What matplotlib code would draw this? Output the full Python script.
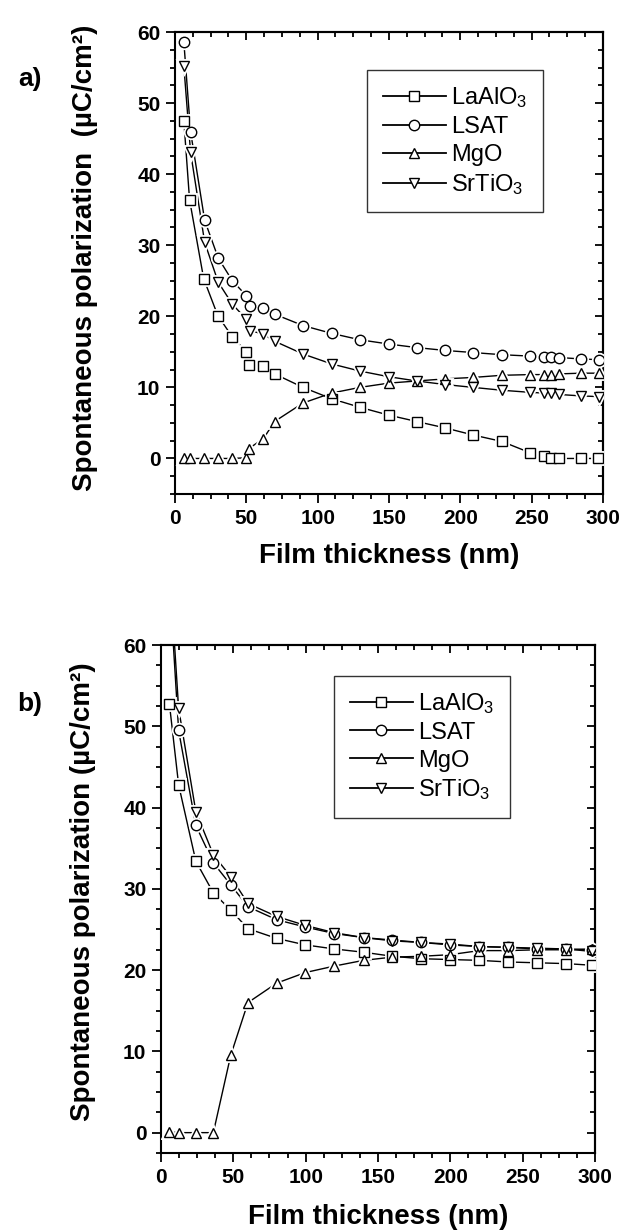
import matplotlib
matplotlib.use("Agg")
import matplotlib.pyplot as plt
from matplotlib.lines import Line2D
from matplotlib.ticker import MultipleLocator, AutoMinorLocator

plt.rcParams['font.family'] = ['Liberation Sans', 'DejaVu Sans']
plt.rcParams['mathtext.fontset'] = 'custom'
plt.rcParams['mathtext.rm'] = 'Liberation Sans'
plt.rcParams['mathtext.it'] = 'Liberation Sans:italic'
plt.rcParams['mathtext.bf'] = 'Liberation Sans:bold'

# ---- panel a) data ----
a_lao_x = [6.2, 10.2, 20.1, 30, 40.2, 50, 51.8, 62, 69.8, 89.7, 109.8, 129.6, 149.8, 169.4,
           189.3, 209, 229, 249, 259, 263.5, 269.5, 284.6, 296.4]
a_lao_y = [47.5, 36.4, 25.3, 20.1, 17.1, 15.0, 13.2, 13.0, 11.9, 10.0, 8.4, 7.2, 6.1, 5.2,
           4.3, 3.3, 2.4, 0.8, 0.4, 0.0, 0.0, 0.0, 0.0]
a_lsat_x = [6.2, 10.9, 20.8, 30.3, 40.2, 50, 52.3, 62, 69.8, 89.7, 109.8, 129.6, 149.8, 169.4,
            189.3, 209, 229, 249, 259, 263.5, 269.5, 284.6, 297]
a_lsat_y = [58.6, 46.0, 33.5, 28.2, 25.0, 22.9, 21.4, 21.1, 20.3, 18.7, 17.6, 16.7, 16.1, 15.6,
            15.2, 14.9, 14.6, 14.4, 14.3, 14.3, 14.2, 14.0, 13.9]
a_mgo_x = [6.2, 10.2, 20.1, 30, 40.2, 50, 51.8, 62, 69.8, 89.7, 109.8, 129.6, 149.8, 169.4,
           189.3, 209, 229, 249, 259, 263.5, 269.5, 284.6, 297]
a_mgo_y = [0.1, 0.0, 0.0, 0.0, 0.0, 0.1, 1.4, 2.8, 5.2, 7.8, 9.2, 10.0, 10.6, 10.9,
           11.2, 11.4, 11.7, 11.8, 11.8, 11.8, 11.9, 12.0, 12.0]
a_sto_x = [6.2, 10.9, 20.8, 30.3, 40.2, 50, 52.3, 62, 69.8, 89.7, 109.8, 129.6, 149.8, 169.4,
           189.3, 209, 229, 249, 259, 263.5, 269.5, 284.6, 297]
a_sto_y = [55.2, 43.1, 30.4, 24.8, 21.7, 19.6, 18.0, 17.5, 16.5, 14.7, 13.3, 12.3, 11.5, 10.9,
           10.4, 10.0, 9.6, 9.3, 9.2, 9.2, 9.0, 8.8, 8.7]

# ---- panel b) data ----
b_x = [5.8, 12.2, 24.1, 36.2, 48.2, 60.1, 80, 99.8, 119.9, 140, 160, 180, 200, 220, 240,
       260, 280, 297.6]
b_lao_y = [52.8, 42.8, 33.4, 29.5, 27.4, 25.1, 23.9, 23.1, 22.6, 22.2, 21.7, 21.4, 21.3,
           21.2, 21.0, 20.9, 20.8, 20.6]
b_lsat_y = [68.0, 49.5, 37.8, 33.2, 30.5, 27.8, 26.2, 25.3, 24.5, 24.0, 23.7, 23.4, 23.1,
            22.9, 22.8, 22.6, 22.6, 22.5]
b_mgo_y = [0.1, 0.0, 0.0, 0.0, 9.5, 16.0, 18.4, 19.7, 20.5, 21.2, 21.6, 21.7, 21.9, 22.4,
           22.4, 22.5, 22.5, 22.6]
b_sto_y = [70.0, 52.2, 39.5, 34.2, 31.5, 28.2, 26.6, 25.5, 24.6, 24.0, 23.6, 23.4, 23.2,
           22.9, 22.8, 22.7, 22.6, 22.3]

xticks = [0, 50, 100, 150, 200, 250, 300]
yticks = [0, 10, 20, 30, 40, 50, 60]
names = ["LaAlO$_3$", "LSAT", "MgO", "SrTiO$_3$"]
markers = ["s", "o", "^", "v"]


def series(ax, x, y, m):
    ax.plot(x, y, color='black', lw=1.0, zorder=2, clip_on=True)
    # white halo gives the gap between line and symbol
    ax.plot(x, y, ls='none', marker=m, ms=7.5, mfc='white', mec='white', mew=3.5, zorder=3)
    ax.plot(x, y, ls='none', marker=m, ms=7.5, mfc='white', mec='black', mew=1.0, zorder=4)


def style(ax, ymin):
    ax.set_xlim(0, 300)
    ax.set_ylim(ymin, 60)
    ax.set_xticks(xticks, [str(t) for t in xticks], fontsize=15, fontweight='bold')
    ax.set_yticks(yticks, [str(t) for t in yticks], fontsize=15, fontweight='bold')
    ax.xaxis.set_minor_locator(AutoMinorLocator(4))
    ax.yaxis.set_minor_locator(AutoMinorLocator(4))
    ax.tick_params(which='both', direction='out', width=1.3, pad=4)
    ax.tick_params(which='major', length=6.5)
    ax.tick_params(which='minor', length=3.5)
    for s in ax.spines.values():
        s.set_linewidth(1.5)
    top = ax.secondary_xaxis('top')
    top.xaxis.set_major_locator(MultipleLocator(50))
    top.xaxis.set_minor_locator(AutoMinorLocator(4))
    top.tick_params(which='both', direction='in', width=1.3, labeltop=False)
    top.tick_params(which='major', length=6)
    top.tick_params(which='minor', length=3.5)
    top.spines['top'].set_linewidth(1.5)
    right = ax.secondary_yaxis('right')
    right.yaxis.set_major_locator(MultipleLocator(10))
    right.yaxis.set_minor_locator(AutoMinorLocator(4))
    right.tick_params(which='both', direction='in', width=1.3, labelright=False)
    right.tick_params(which='major', length=6)
    right.tick_params(which='minor', length=3.5)
    right.spines['right'].set_linewidth(1.5)


def legend(ax, anchor):
    handles = [Line2D([], [], color='black', lw=1.3, marker=m, ms=7.5, mfc='white',
                      mec='black', mew=1.0) for m in markers]
    leg = ax.legend(handles, names, loc='upper left', bbox_to_anchor=anchor,
                    fontsize=17, handlelength=2.7, handletextpad=0.2, labelspacing=0.25,
                    borderpad=0.65, borderaxespad=0, fancybox=False, frameon=True)
    leg.get_frame().set_edgecolor('black')
    leg.get_frame().set_linewidth(1.0)
    leg.set_zorder(10)


fig = plt.figure(figsize=(6.32, 12.31), dpi=100)

axa = fig.add_axes([0.2769, 0.5987, 0.6772, 0.3753])
series(axa, a_lao_x, a_lao_y, "s")
series(axa, a_lsat_x, a_lsat_y, "o")
series(axa, a_mgo_x, a_mgo_y, "^")
series(axa, a_sto_x, a_sto_y, "v")
style(axa, -5)
legend(axa, (0.449, 0.918))
axa.set_xlabel("Film thickness (nm)", fontsize=20, fontweight='bold')
axa.set_ylabel("Spontaneous polarization  (\u00b5C/cm\u00b2)", fontsize=20, fontweight='bold')
axa.xaxis.set_label_coords(0.5, -0.105)
axa.yaxis.set_label_coords(-0.180, 0.512)

axb = fig.add_axes([0.2547, 0.0634, 0.6868, 0.4126])
series(axb, b_x, b_lao_y, "s")
series(axb, b_x, b_lsat_y, "o")
series(axb, b_x, b_mgo_y, "^")
series(axb, b_x, b_sto_y, "v")
style(axb, -2.5)
legend(axb, (0.399, 0.94))
axb.set_xlabel("Film thickness (nm)", fontsize=20, fontweight='bold')
axb.set_ylabel("Spontaneous polarization (\u00b5C/cm\u00b2)", fontsize=20, fontweight='bold')
axb.xaxis.set_label_coords(0.5, -0.100)
axb.yaxis.set_label_coords(-0.150, 0.514)

fig.text(30 / 632, 1 - 79 / 1231, "a)", ha='center', va='center', fontsize=19, fontweight='bold')
fig.text(30 / 632, 1 - 704 / 1231, "b)", ha='center', va='center', fontsize=19, fontweight='bold')

fig.savefig("out.png", dpi=100)
